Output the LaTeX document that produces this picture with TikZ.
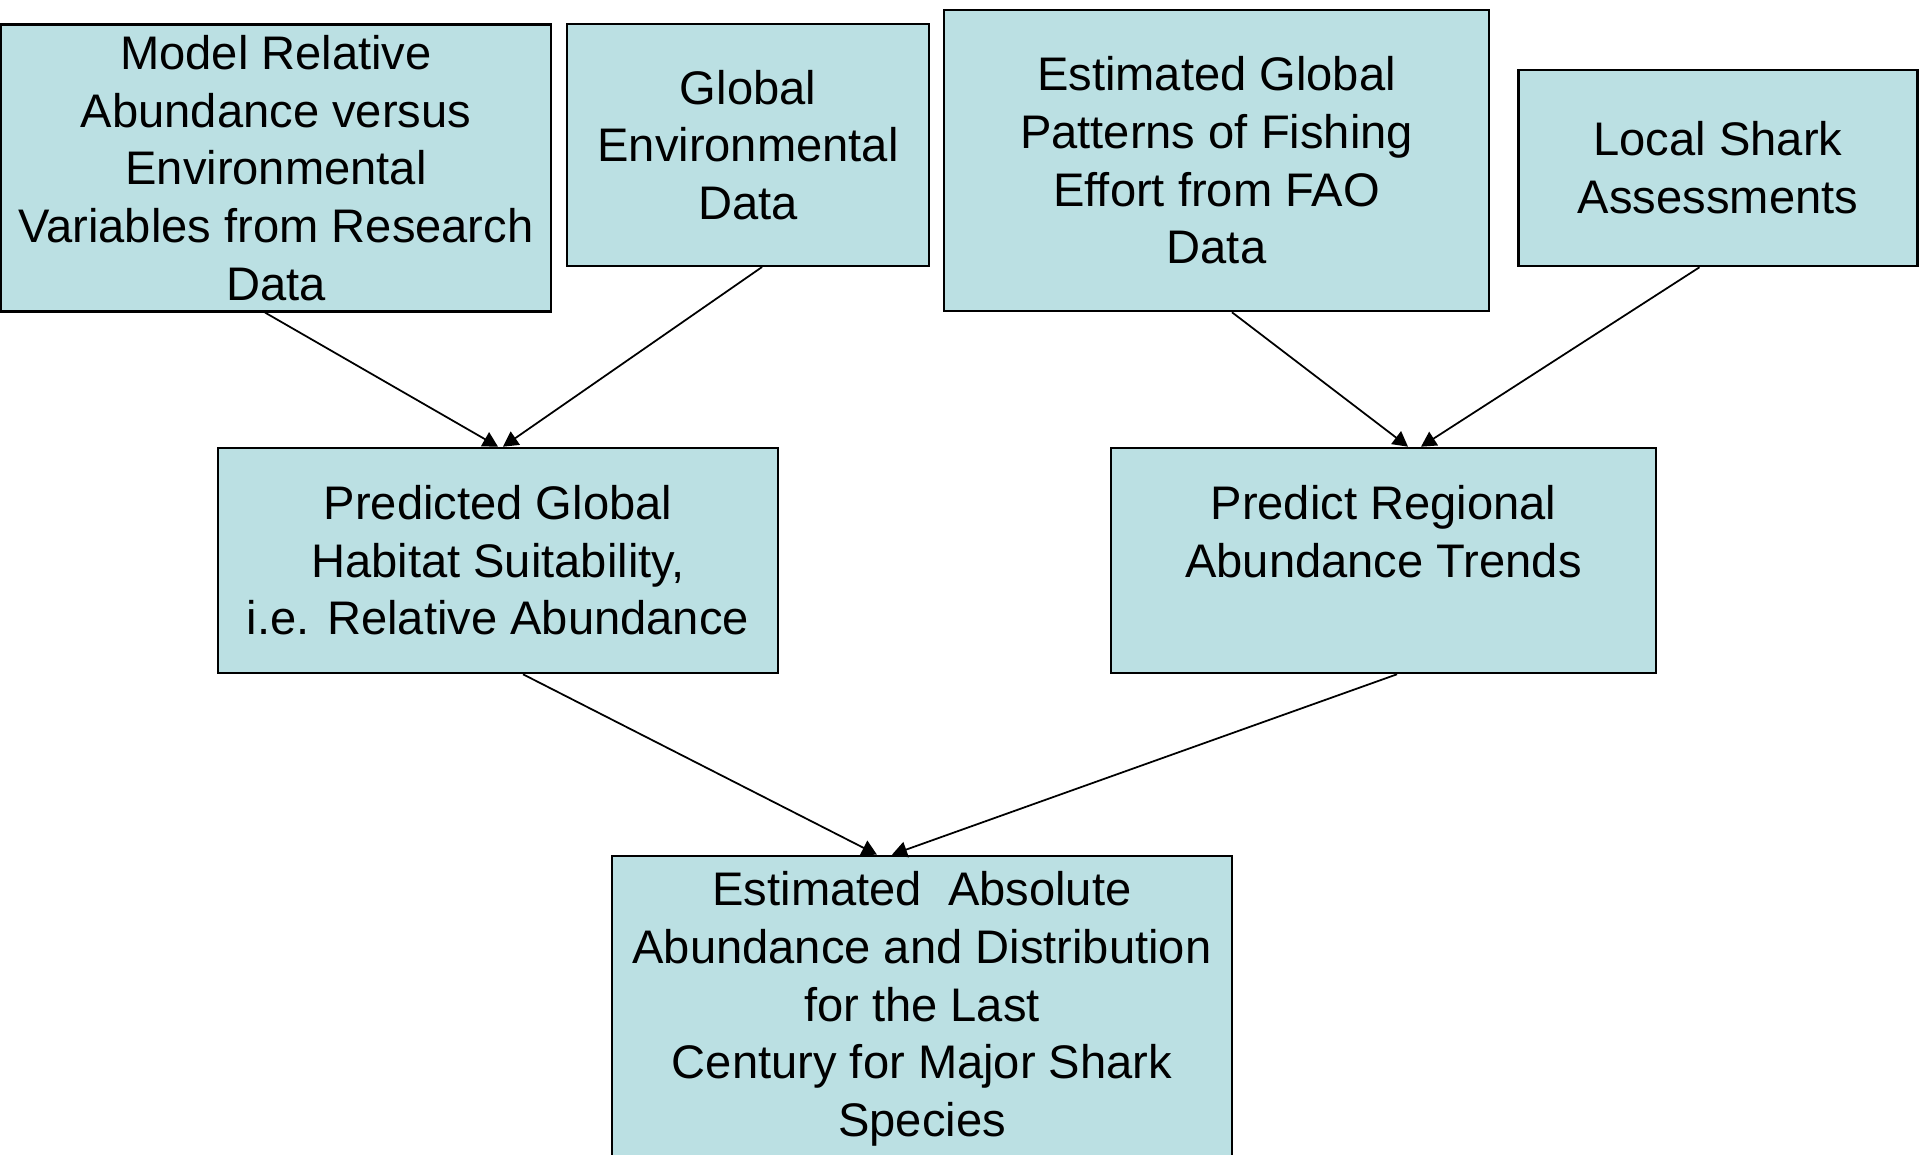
\documentclass[tikz,border=0pt]{standalone}
\usepackage{fontspec}
\setmainfont{Liberation Sans}
\usetikzlibrary{arrows.meta}
\definecolor{boxfill}{HTML}{BBE0E3}

\begin{document}
\begin{tikzpicture}[
        x=0.01cm, y=0.01cm,
        procbox/.style={draw, line width=0.7pt, fill=boxfill, inner sep=0pt, align=center,
            font=\fontsize{13.4}{16.4}\selectfont}, % Box styling
        flow/.style={line width=0.5pt, -{Triangle[length=1.5mm, width=1.6mm]}} % Arrow styling
        ]
        \clip (0,0) rectangle (1920,1155);

        % Define nodes
        \node (model) [procbox, minimum width=5.5cm, minimum height=2.865cm] at (276,987)
            {Model Relative\\Abundance versus\\Environmental\\Variables from Research\\Data};
        \node (envdata) [procbox, minimum width=3.62cm, minimum height=2.415cm] at (748,1010)
            {Global\\Environmental\\Data};
        \node (fishing) [procbox, minimum width=5.45cm, minimum height=3.01cm] at (1216.5,994.5)
            {Estimated Global\\Patterns of Fishing\\Effort from FAO\\Data};
        \node (local) [procbox, minimum width=3.99cm, minimum height=1.96cm] at (1718,987)
            {Local Shark\\Assessments};
        \node (habitat) [procbox, minimum width=5.6cm, minimum height=2.25cm] at (498,594.5)
            {Predicted Global\\Habitat Suitability,\\i.e. Relative Abundance};
        \node (trends) [procbox, minimum width=5.45cm, minimum height=2.25cm] at (1383.5,594.5)
            {Predict Regional\\Abundance Trends\\\mbox{}};
        \node (absolute) [procbox, minimum width=6.2cm, minimum height=3.06cm] at (922,146)
            {Estimated~ Absolute\\Abundance and Distribution\\for the Last\\Century for Major Shark\\Species};

        % Draw arrows
        \draw[flow] ([xshift=-0.11cm]model.south) -- (habitat.north);
        \draw[flow] ([xshift=0.14cm]envdata.south) -- ([xshift=0.05cm]habitat.north);
        \draw[flow] ([xshift=0.155cm]fishing.south) -- ([xshift=0.245cm]trends.north);
        \draw[flow] ([xshift=-0.185cm]local.south) -- ([xshift=0.375cm]trends.north);
        \draw[flow] ([xshift=0.25cm]habitat.south) -- ([xshift=-0.45cm]absolute.north);
        \draw[flow] ([xshift=0.135cm]trends.south) -- ([xshift=-0.3cm]absolute.north);

    \end{tikzpicture}
\end{document}
